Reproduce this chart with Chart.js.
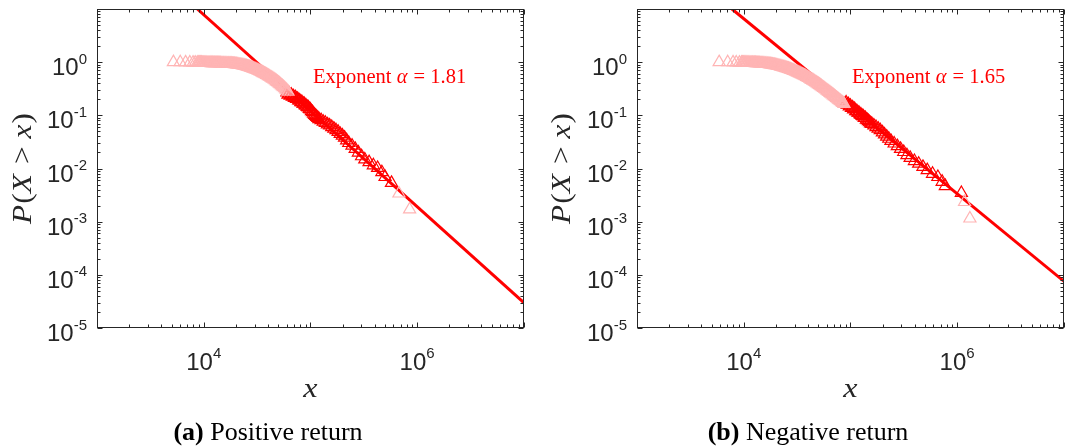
<!DOCTYPE html>
<html>
<head>
<meta charset="utf-8">
<script src="https://cdn.jsdelivr.net/npm/chart.js@4.4.1/dist/chart.umd.min.js"></script>
<style>
  html,body{margin:0;padding:0;background:#fff;overflow:hidden;width:1065px;height:446px;}
  .panel{position:absolute;top:0;}
</style>
</head>
<body>
<div class="panel" style="left:0px"><canvas id="c1" width="532" height="446"></canvas></div>
<div class="panel" style="left:532px"><canvas id="c2" width="540" height="446"></canvas></div>
<script>
// ---------- data (log10 values) ----------
// Positive return: body of the distribution (light) incl. two far outliers
const posBodyLogX = [3.716,3.78,3.83,3.87,3.90,3.92,3.94,
 3.95,3.96,3.97,3.98,3.99,4.00,4.01,4.02,4.03,4.04,4.05,4.06,4.07,4.08,4.09,4.10,4.11,4.12,4.13,4.14,4.15,4.16,4.17,4.18,4.19,
 4.20,4.21,4.22,4.23,4.24,4.25,4.26,4.27,4.28,4.29,4.30,4.31,4.32,4.33,4.34,4.35,4.36,4.37,4.38,4.39,
 4.40,4.41,4.42,4.43,4.44,4.45,4.46,4.47,4.48,4.49,4.50,4.51,4.52,4.53,4.54,4.55,4.56,4.57,4.58,4.59,
 4.60,4.61,4.62,4.63,4.64,4.65,4.66,4.67,4.68,4.69,4.70,4.71,4.72,4.73,4.74,4.75,4.76,4.77,4.78,4.79,
 5.83,5.93];
const posBodyLogY = [0.000,-0.002,-0.004,-0.006,-0.008,-0.009,-0.010,
 -0.011,-0.011,-0.012,-0.012,-0.013,-0.013,-0.014,-0.014,-0.015,-0.015,-0.016,-0.016,-0.017,-0.017,-0.018,-0.018,-0.019,-0.019,-0.020,-0.020,-0.021,-0.021,-0.022,-0.023,-0.024,
 -0.025,-0.026,-0.027,-0.028,-0.029,-0.030,-0.031,-0.032,-0.034,-0.035,-0.037,-0.040,-0.043,-0.046,-0.050,-0.053,-0.057,-0.062,-0.067,-0.072,
 -0.077,-0.083,-0.089,-0.095,-0.101,-0.108,-0.115,-0.122,-0.130,-0.138,-0.147,-0.156,-0.165,-0.175,-0.185,-0.195,-0.205,-0.216,-0.227,-0.238,
 -0.249,-0.261,-0.273,-0.286,-0.299,-0.312,-0.326,-0.340,-0.355,-0.370,-0.386,-0.402,-0.419,-0.436,-0.454,-0.472,-0.491,-0.512,-0.533,-0.555,
 -2.47,-2.77];
// Positive return: fitted tail (dark)
const posTailLogX = [4.78,4.79,4.80,4.81,4.82,4.83,4.84,4.85,4.86,4.87,4.88,4.89,4.90,4.91,4.92,4.93,4.94,4.95,4.96,4.97,4.98,4.99,5.00,5.01,5.02,5.03,5.04,5.05,5.06,5.07,5.08,5.10,5.12,5.14,5.16,5.18,5.20,5.22,5.24,5.26,5.28,5.30,5.32,5.34,5.36,5.39,5.42,5.45,5.48,5.51,5.55,5.59,5.63,5.67,5.70,5.76];
const posTailLogY = [-0.57,-0.61,-0.59,-0.63,-0.61,-0.65,-0.64,-0.67,-0.66,-0.69,-0.69,-0.72,-0.72,-0.75,-0.75,-0.78,-0.78,-0.81,-0.82,-0.84,-0.85,-0.88,-0.89,-0.92,-0.94,-0.97,-0.99,-1.01,-1.03,-1.05,-1.07,-1.09,-1.12,-1.14,-1.17,-1.19,-1.22,-1.25,-1.28,-1.31,-1.35,-1.38,-1.42,-1.47,-1.52,-1.57,-1.63,-1.70,-1.77,-1.83,-1.88,-1.94,-1.99,-2.07,-2.16,-2.27];
// Positive return: fitted power-law line end points (x, P)
const posFitX = [8710, 1e7];
const posFitY = [10, 3.0e-5];
const posAlpha = '1.81';

// Negative return
const negBodyLogX = [3.77,3.85,3.90,3.93,3.96,
 3.98,3.99,4.00,4.01,4.02,4.03,4.04,4.05,4.06,4.07,4.08,4.09,4.10,4.11,4.12,4.13,4.14,4.15,4.16,4.17,4.18,4.19,
 4.20,4.21,4.22,4.23,4.24,4.25,4.26,4.27,4.28,4.29,4.30,4.31,4.32,4.33,4.34,4.35,4.36,4.37,4.38,4.39,
 4.40,4.41,4.42,4.43,4.44,4.45,4.46,4.47,4.48,4.49,4.50,4.51,4.52,4.53,4.54,4.55,4.56,4.57,4.58,4.59,
 4.60,4.61,4.62,4.63,4.64,4.65,4.66,4.67,4.68,4.69,4.70,4.71,4.72,4.73,4.74,4.75,4.76,4.77,4.78,4.79,
 4.80,4.81,4.82,4.83,4.84,4.85,4.86,4.87,4.88,4.89,4.90,4.91,4.92,4.93,4.94,
 6.07,6.12];
const negBodyLogY = [0.000,-0.002,-0.004,-0.006,-0.008,
 -0.009,-0.009,-0.010,-0.010,-0.011,-0.011,-0.012,-0.012,-0.013,-0.013,-0.014,-0.015,-0.016,-0.017,-0.018,-0.019,-0.020,-0.021,-0.022,-0.023,-0.025,-0.026,
 -0.028,-0.030,-0.032,-0.034,-0.037,-0.040,-0.043,-0.046,-0.050,-0.054,-0.058,-0.062,-0.067,-0.072,-0.077,-0.082,-0.088,-0.094,-0.100,-0.106,
 -0.112,-0.118,-0.125,-0.132,-0.139,-0.146,-0.154,-0.162,-0.170,-0.178,-0.187,-0.196,-0.205,-0.214,-0.224,-0.234,-0.244,-0.254,-0.265,-0.276,
 -0.287,-0.298,-0.310,-0.322,-0.334,-0.346,-0.359,-0.372,-0.385,-0.398,-0.412,-0.426,-0.440,-0.454,-0.469,-0.484,-0.499,-0.514,-0.530,-0.545,
 -0.561,-0.576,-0.592,-0.607,-0.623,-0.639,-0.655,-0.671,-0.687,-0.703,-0.719,-0.735,-0.751,-0.767,-0.783,
 -2.63,-2.94];
const negTailLogX = [4.95,4.96,4.97,4.98,4.99,5.00,5.01,5.02,5.03,5.04,5.05,5.06,5.07,5.08,5.09,5.10,5.11,5.12,5.13,5.14,5.15,5.16,5.17,5.18,5.19,5.20,5.22,5.24,5.26,5.28,5.30,5.32,5.34,5.36,5.38,5.41,5.44,5.47,5.50,5.53,5.56,5.60,5.64,5.68,5.72,5.77,5.82,5.86,5.89,6.04];
const negTailLogY = [-0.78,-0.76,-0.80,-0.79,-0.83,-0.82,-0.86,-0.85,-0.89,-0.88,-0.92,-0.92,-0.95,-0.95,-0.98,-0.99,-1.01,-1.02,-1.05,-1.05,-1.08,-1.09,-1.11,-1.13,-1.15,-1.16,-1.19,-1.22,-1.25,-1.28,-1.32,-1.36,-1.40,-1.44,-1.48,-1.53,-1.58,-1.63,-1.69,-1.75,-1.80,-1.86,-1.91,-1.97,-2.03,-2.10,-2.16,-2.25,-2.33,-2.46];
const negFitX = [7760, 1e7];
const negFitY = [10, 7.6e-5];
const negAlpha = '1.65';

// axis ticks
const xTickValues = [1e4, 1e6];
const xTickExps = ['4', '6'];
const yTickValues = [1, 1e-1, 1e-2, 1e-3, 1e-4, 1e-5];
const yTickExps = ['0', '-1', '-2', '-3', '-4', '-5'];
const captions = [['(a)', ' Positive return'], ['(b)', ' Negative return']];

// ---------- drawing ----------
const PINK = '#ffb4b4';
const RED = '#ff0000';
const AXIS = '#262626';

function toPts(lx, ly) { return lx.map((v, i) => ({x: Math.pow(10, v), y: Math.pow(10, ly[i])})); }
function fitPts(xs, ys) { return xs.map((v, i) => ({x: v, y: ys[i]})); }

function drawRich(ctx, parts, x, y, align) {
  let total = 0;
  const ws = parts.map(p => { ctx.font = p[1]; const w = ctx.measureText(p[0]).width + (p[2] || 0); total += w; return w; });
  let cx = align === 'center' ? x - total / 2 : (align === 'right' ? x - total : x);
  parts.forEach((p, i) => { ctx.font = p[1]; ctx.fillText(p[0], cx, y); cx += ws[i]; });
}

function makeFramePlugin(cfg) {
  return {
    id: 'frame' + cfg.idx,
    afterDatasetsDraw(chart) {
      const ctx = chart.ctx, a = chart.chartArea, xs = chart.scales.x, ys = chart.scales.y;
      const L = Math.round(a.left) + 0.5, R = Math.round(a.right) - 0.5;
      const T = Math.round(a.top) + 0.5, B = Math.round(a.bottom) - 0.5;
      ctx.save();
      ctx.strokeStyle = AXIS; ctx.lineWidth = 1;
      ctx.beginPath();
      for (let d = 3; d <= 7; d++) {
        for (let m = 1; m <= 9; m++) {
          const v = m * Math.pow(10, d);
          if (v < xs.min || v > xs.max) continue;
          const px = Math.round(xs.getPixelForValue(v)) + 0.5;
          const len = m === 1 ? 5 : 3;
          ctx.moveTo(px, B); ctx.lineTo(px, B - len);
          ctx.moveTo(px, T); ctx.lineTo(px, T + len);
        }
      }
      for (let d = -5; d <= 1; d++) {
        for (let m = 1; m <= 9; m++) {
          const v = m * Math.pow(10, d);
          if (v < ys.min * 0.999 || v > ys.max * 1.001) continue;
          const py = Math.round(ys.getPixelForValue(v)) + 0.5;
          const len = m === 1 ? 5 : 3;
          ctx.moveTo(L, py); ctx.lineTo(L + len, py);
          ctx.moveTo(R, py); ctx.lineTo(R - len, py);
        }
      }
      ctx.stroke();
      ctx.strokeRect(L, T, R - L, B - T);

      // tick labels
      ctx.fillStyle = '#262626';
      ctx.textBaseline = 'alphabetic';
      const big = '24px "Liberation Sans", Arial, sans-serif';
      const sup = '15px "Liberation Sans", Arial, sans-serif';
      yTickValues.forEach((v, i) => {
        const py = ys.getPixelForValue(v);
        ctx.font = sup; const wsup = ctx.measureText(yTickExps[i]).width;
        ctx.font = big; const w10 = ctx.measureText('10').width;
        const xr = a.left - 10;
        ctx.font = big; ctx.fillText('10', xr - wsup - w10, py + 13);
        ctx.font = sup; ctx.fillText(yTickExps[i], xr - wsup, py + 1.5);
      });
      xTickValues.forEach((v, i) => {
        const px = xs.getPixelForValue(v);
        ctx.font = sup; const wsup = ctx.measureText(xTickExps[i]).width;
        ctx.font = big; const w10 = ctx.measureText('10').width;
        const x0 = px - (w10 + wsup) / 2;
        ctx.font = big; ctx.fillText('10', x0, a.bottom + 41.5);
        ctx.font = sup; ctx.fillText(xTickExps[i], x0 + w10, a.bottom + 29.8);
      });

      // axis titles
      const it = 'italic 28px "Liberation Serif", "Times New Roman", serif';
      const rm = '28px "Liberation Serif", "Times New Roman", serif';
      ctx.fillStyle = '#262626';
      ctx.save();
      ctx.translate((a.left + a.right) / 2, a.bottom + 69);
      ctx.scale(1.15, 1);
      drawRich(ctx, [['x', it]], 0, 0, 'center');
      ctx.restore();
      ctx.save();
      ctx.translate(cfg.yTitleX, (a.top + a.bottom) / 2);
      ctx.rotate(-Math.PI / 2);
      ctx.scale(1.12, 1);
      ctx.textBaseline = 'middle';
      drawRich(ctx, [['P', it, 1], ['(', rm], ['X', it, 2], [' > ', rm], ['x', it, 1], [')', rm]], 0, 0, 'center');
      ctx.restore();

      // annotation
      ctx.fillStyle = RED;
      const an = '20.5px "Liberation Serif", serif';
      const ai = 'italic 20.5px "Liberation Serif", serif';
      drawRich(ctx, [['Exponent ', an], ['\u03b1', ai, 1], [' = ' + cfg.alpha, an]], cfg.annX, 83, 'left');

      // caption
      ctx.fillStyle = '#000';
      drawRich(ctx, [[cfg.caption[0], 'bold 26px "Liberation Serif", serif'], [cfg.caption[1], '26px "Liberation Serif", serif']], cfg.capX, 440, 'center');
      ctx.restore();
    }
  };
}

function makeChart(id, cfg) {
  return new Chart(document.getElementById(id), {
    type: 'scatter',
    data: {
      datasets: [
        { data: toPts(cfg.bodyX, cfg.bodyY), pointStyle: 'triangle', pointRadius: 7, borderColor: PINK, backgroundColor: 'rgba(0,0,0,0)', borderWidth: 1.2 },
        { data: toPts(cfg.tailX, cfg.tailY), pointStyle: 'triangle', pointRadius: 7, borderColor: RED, backgroundColor: 'rgba(0,0,0,0)', borderWidth: 1.2 },
        { data: fitPts(cfg.fitX, cfg.fitY), showLine: true, pointRadius: 0, borderColor: RED, borderWidth: 3, fill: false }
      ]
    },
    options: {
      responsive: false, animation: false, devicePixelRatio: 1,
      layout: { padding: cfg.padding },
      plugins: { legend: { display: false }, tooltip: { enabled: false } },
      scales: {
        x: { type: 'logarithmic', min: 1e3, max: 1e7, display: false },
        y: { type: 'logarithmic', min: 1e-5, max: 10, display: false }
      }
    },
    plugins: [makeFramePlugin(cfg)]
  });
}

makeChart('c1', {
  idx: 1, bodyX: posBodyLogX, bodyY: posBodyLogY, tailX: posTailLogX, tailY: posTailLogY,
  fitX: posFitX, fitY: posFitY, alpha: posAlpha,
  padding: { left: 97, right: 7, top: 9, bottom: 118 },
  yTitleX: 24, annX: 313, capX: 268, caption: captions[0]
});
makeChart('c2', {
  idx: 2, bodyX: negBodyLogX, bodyY: negBodyLogY, tailX: negTailLogX, tailY: negTailLogY,
  fitX: negFitX, fitY: negFitY, alpha: negAlpha,
  padding: { left: 105, right: 5, top: 9, bottom: 118 },
  yTitleX: 31, annX: 320, capX: 276, caption: captions[1]
});
</script>
</body>
</html>
